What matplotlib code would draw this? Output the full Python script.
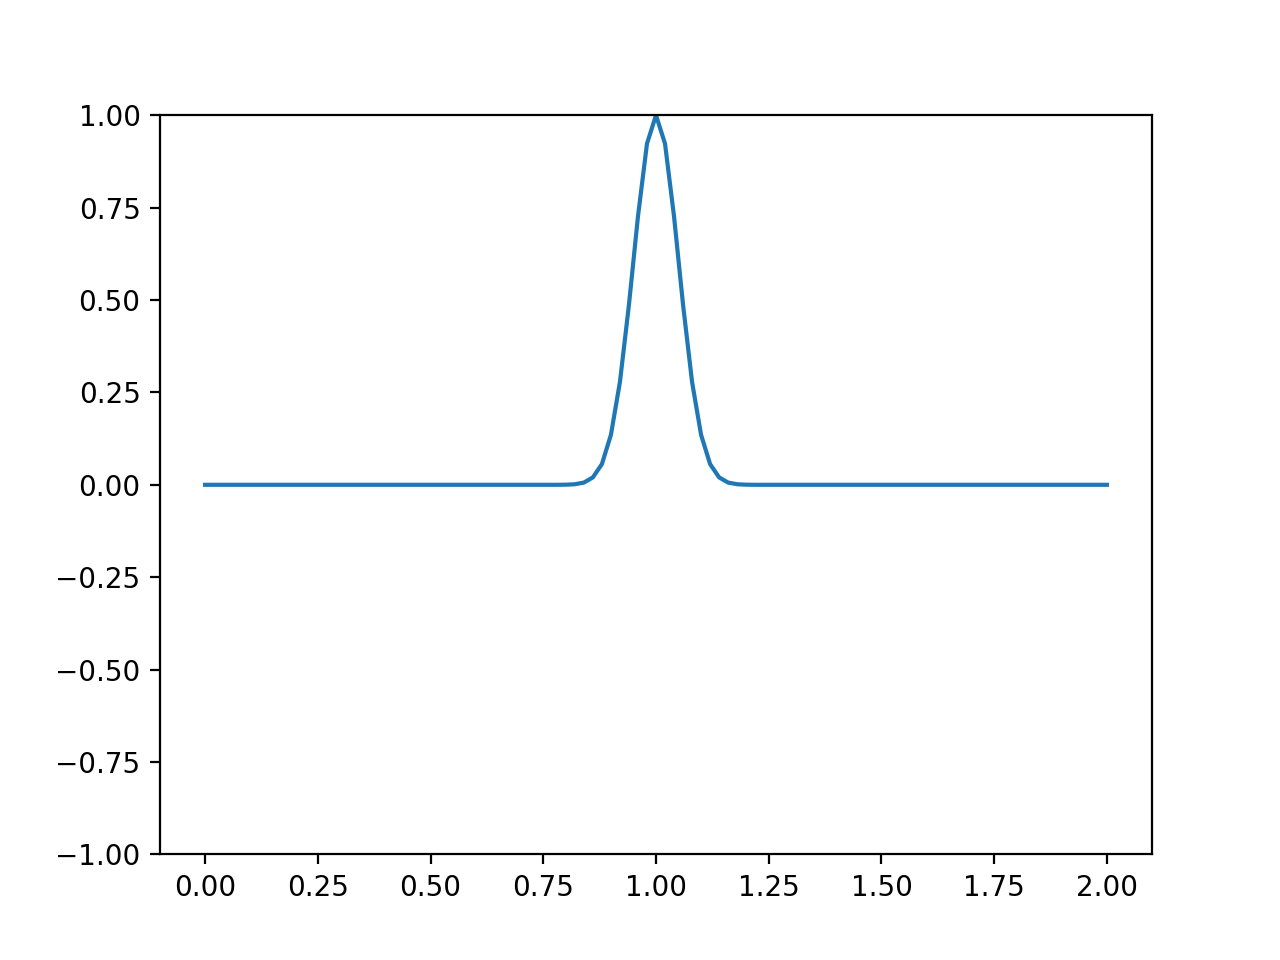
import matplotlib

matplotlib.use("Agg")
import matplotlib.pyplot as plt
import numpy as np

# sample positions: 0.00 .. 2.00 in steps of 0.02 (101 samples)
x = np.linspace(0.0, 2.0, 101)

left_flat = [0.0] * 40
pulse = [
    0.0003, 0.0015, 0.006, 0.020, 0.056, 0.135, 0.278, 0.487, 0.726, 0.923,
    1.0,
    0.923, 0.726, 0.487, 0.278, 0.135, 0.056, 0.020, 0.006, 0.0015, 0.0003,
]
right_flat = [0.0] * 40
y = left_flat + pulse + right_flat

fig, ax = plt.subplots(figsize=(6.4, 4.8), dpi=200)
ax.plot(x, y)
ax.set_ylim(-1, 1)
fig.savefig("out.png", dpi=200)
